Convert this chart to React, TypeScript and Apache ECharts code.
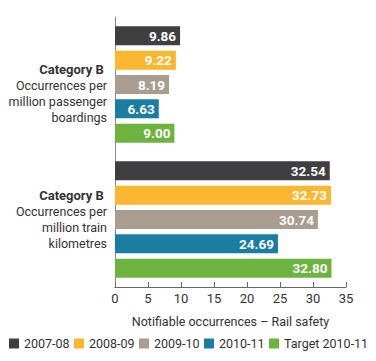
import React, { useEffect, useRef } from "react";
import * as echarts from "echarts";

const categories = [
  "Category B \nOccurrences per\nmillion passenger\nboardings",
  "Category B \nOccurrences per\nmillion train\nkilometres",
];
const seriesNames = ["2007-08", "2008-09", "2009-10", "2010-11", "Target 2010-11"];
const values2007 = [9.86, 32.54];
const values2008 = [9.22, 32.73];
const values2009 = [8.19, 30.74];
const values2010 = [6.63, 24.69];
const valuesTarget = [9.0, 32.8];
const colors = ["#3f3f41", "#fbb72f", "#a99d8f", "#1a7da2", "#6cb33f"];
const xTicks = { min: 0, max: 35, interval: 5 };
const axisName = "Notifiable occurrences – Rail safety";

const FONT = "Roboto, sans-serif";
const legendLefts = [9, 74, 139, 204, 269];

export default function App() {
  const ref = useRef<HTMLDivElement>(null);
  useEffect(() => {
    if (!ref.current) return;
    const chart = echarts.init(ref.current, undefined, { renderer: "svg" });
    const allValues = [values2007, values2008, values2009, values2010, valuesTarget];
    chart.setOption({
      animation: false,
      textStyle: { fontFamily: FONT },
      grid: { left: 115, right: 30, top: 17, bottom: 74, containLabel: false },
      legend: seriesNames.map((name, i) => ({
        top: 337,
        left: legendLefts[i],
        padding: 0,
        itemWidth: 10,
        itemHeight: 10,
        icon: "rect",
        textStyle: { fontFamily: FONT, fontSize: 12.5, color: "#333" },
        data: [name],
      })),
      xAxis: {
        type: "value",
        min: xTicks.min,
        max: xTicks.max,
        interval: xTicks.interval,
        name: axisName,
        nameLocation: "middle",
        nameGap: 28,
        nameTextStyle: { fontFamily: FONT, fontSize: 12.5, color: "#333" },
        axisLine: { show: true, lineStyle: { color: "#666", width: 1 } },
        axisTick: { show: true, inside: true, length: 5, lineStyle: { color: "#666" } },
        splitLine: { show: false },
        axisLabel: { fontFamily: FONT, fontSize: 13, color: "#333", margin: 5 },
      },
      yAxis: {
        type: "category",
        inverse: true,
        data: categories,
        axisLine: { show: true, lineStyle: { color: "#888", width: 1 } },
        axisTick: { show: false },
        axisLabel: {
          margin: 8,
          formatter: (v: string, i: number) => {
            const lines = v.split("\n").map((l, k) => (k === 0 ? `{b|${l}}` : `{n|${l}}`));
            if (i === 0) lines.unshift("{sp| }");
            return lines.join("\n");
          },
          rich: {
            sp: { fontSize: 1, lineHeight: 18 },
            b: { fontFamily: FONT, fontSize: 13, fontWeight: "bold", color: "#333", lineHeight: 16 },
            n: { fontFamily: FONT, fontSize: 12.5, color: "#333", lineHeight: 16 },
          },
        },
      },
      series: seriesNames.map((name, i) => ({
        name,
        type: "bar",
        data: allValues[i],
        barWidth: 19,
        barGap: "28%",
        itemStyle: { color: colors[i] },
        label: {
          show: true,
          position: "insideRight",
          distance: 4,
          color: "#fff",
          fontFamily: FONT,
          fontWeight: "bold",
          fontSize: 13.5,
          formatter: (p: any) => Number(p.value).toFixed(2),
        },
      })),
    });
    return () => chart.dispose();
  }, []);
  return (
    <div
      ref={ref}
      style={{ width: 376, height: 361, position: "absolute", left: 0, top: 0 }}
    />
  );
}
